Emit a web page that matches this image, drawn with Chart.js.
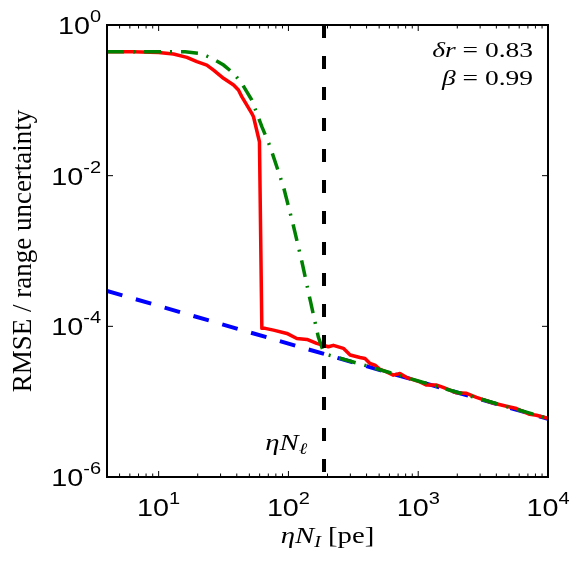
<!DOCTYPE html>
<html>
<head>
<meta charset="utf-8">
<script src="https://cdn.jsdelivr.net/npm/chart.js@4.4.1/dist/chart.umd.min.js"></script>
<style>
  html, body { margin: 0; padding: 0; background: #fff; }
  #wrap { width: 572px; height: 561px; }
</style>
</head>
<body>
<div id="wrap"><canvas id="rmseChart" width="572" height="561"></canvas></div>
<script>
// ---- data ----
const redX = [4, 6.3, 10, 13, 16.5, 19.7, 23.5, 26.5, 31.6, 37.8, 41.2, 43.7, 52.2, 53.8, 59.8, 62.4, 66.2, 76.7, 97.3, 116, 139, 165, 203, 222, 265, 299, 356, 389, 425, 464, 507, 571, 643, 723, 815, 1030, 1161, 1387, 1556, 1972, 2355, 2812, 3776, 4786, 5715, 7228, 8147, 10000];
const redY = [0.443, 0.44, 0.43, 0.412, 0.372, 0.326, 0.294, 0.252, 0.196, 0.160, 0.137, 0.112, 0.0671, 0.0605, 0.0282, 9.4e-5, 9.4e-5, 8.9e-5, 8.05e-5, 6.9e-5, 6.7e-5, 5.93e-5, 5.35e-5, 5.6e-5, 5.1e-5, 4.17e-5, 3.86e-5, 3.75e-5, 3.21e-5, 3.05e-5, 2.68e-5, 2.49e-5, 2.25e-5, 2.37e-5, 2.09e-5, 1.83e-5, 1.66e-5, 1.66e-5, 1.55e-5, 1.31e-5, 1.29e-5, 1.14e-5, 9.6e-6, 8.7e-6, 8.1e-6, 6.8e-6, 6.6e-6, 6.0e-6];

const greenX = [4, 10, 16, 20.9, 25.8, 31.6, 37.8, 43.7, 52.2, 62.4, 72.3, 91.6, 109, 127, 147, 170, 183, 200, 398, 1000, 3162, 10000];
const greenY = [0.443, 0.443, 0.44, 0.42, 0.361, 0.294, 0.228, 0.168, 0.101, 0.0447, 0.0242, 7.1e-3, 2.2e-3, 7.2e-4, 2.24e-4, 7.2e-5, 5.0e-5, 4.2e-5, 3.0e-5, 1.88e-5, 1.06e-5, 6.0e-6];

const blueX = [4, 10, 100, 1000, 10000];
const blueY = [2.95e-4, 1.87e-4, 5.9e-5, 1.87e-5, 5.9e-6];

const markX = [188, 188];
const markY = [1, 1e-6];

const xTicks = [10, 100, 1000, 10000];
const xTickExp = ["1", "2", "3", "4"];
const yTicks = [1, 1e-2, 1e-4, 1e-6];
const yTickExp = ["0", "-2", "-4", "-6"];

const X_MIN = 4, X_MAX = 1e4, Y_MIN = 1e-6, Y_MAX = 1;
const SX = 1.25; // horizontal stretch of the text in the reference
const SANS = '"Liberation Sans", Arial, sans-serif';
const SERIF = '"Liberation Serif", "Times New Roman", serif';

function toPts(xs, ys) {
  return xs.map((x, i) => ({ x, y: ys[i] }));
}

// draw a run of text pieces (for sub/superscripts), stretched horizontally
function drawRich(ctx, parts, x, y, align) {
  ctx.save();
  let w = 0;
  parts.forEach((p) => {
    ctx.font = p.font;
    w += ctx.measureText(p.text).width;
  });
  let start = x;
  if (align === "center") start = x - (w * SX) / 2;
  if (align === "right") start = x - w * SX;
  ctx.translate(start, y);
  ctx.scale(SX, 1);
  ctx.fillStyle = "#000";
  ctx.textBaseline = "alphabetic";
  ctx.textAlign = "left";
  let cx = 0;
  parts.forEach((p) => {
    ctx.font = p.font;
    ctx.fillText(p.text, cx, p.dy || 0);
    cx += ctx.measureText(p.text).width;
  });
  ctx.restore();
}

const axesDecor = {
  id: "axesDecor",
  afterDraw(chart) {
    const { ctx, chartArea: a, scales } = chart;
    const xs = scales.x, ys = scales.y;

    // box
    ctx.save();
    ctx.strokeStyle = "#000";
    ctx.lineWidth = 2;
    ctx.strokeRect(a.left, a.top, a.right - a.left, a.bottom - a.top);

    // inward ticks
    ctx.lineWidth = 1;
    ctx.beginPath();
    xTicks.forEach((v) => {
      const px = xs.getPixelForValue(v);
      ctx.moveTo(px, a.bottom); ctx.lineTo(px, a.bottom - 6);
      ctx.moveTo(px, a.top); ctx.lineTo(px, a.top + 6);
    });
    for (let e = 0; e < 4; e++) {
      for (let m = 2; m <= 9; m++) {
        const v = m * Math.pow(10, e);
        if (v <= X_MIN || v >= X_MAX) continue;
        const px = xs.getPixelForValue(v);
        ctx.moveTo(px, a.bottom); ctx.lineTo(px, a.bottom - 3.5);
        ctx.moveTo(px, a.top); ctx.lineTo(px, a.top + 3.5);
      }
    }
    yTicks.forEach((v) => {
      const py = ys.getPixelForValue(v);
      ctx.moveTo(a.left, py); ctx.lineTo(a.left + 6, py);
      ctx.moveTo(a.right, py); ctx.lineTo(a.right - 6, py);
    });
    ctx.stroke();
    ctx.restore();

    // tick labels
    xTicks.forEach((v, i) => {
      const px = xs.getPixelForValue(v);
      drawRich(ctx, [
        { text: "10", font: `23px ${SANS}` },
        { text: xTickExp[i], font: `16px ${SANS}`, dy: -12 },
      ], px, 516, "center");
    });
    yTicks.forEach((v, i) => {
      const py = ys.getPixelForValue(v);
      drawRich(ctx, [
        { text: "10", font: `23px ${SANS}` },
        { text: yTickExp[i], font: `16px ${SANS}`, dy: -12 },
      ], 101, py + 9, "right");
    });

    // axis titles
    drawRich(ctx, [
      { text: "\u03B7N", font: `italic 23px ${SERIF}` },
      { text: "I", font: `italic 16px ${SERIF}`, dy: 4 },
      { text: " [pe]", font: `23px ${SERIF}` },
    ], (a.left + a.right) / 2, 543, "center");

    ctx.save();
    ctx.translate(31, (a.top + a.bottom) / 2);
    ctx.rotate(-Math.PI / 2);
    ctx.font = `27px ${SERIF}`;
    ctx.fillStyle = "#000";
    ctx.textAlign = "center";
    ctx.fillText("RMSE / range uncertainty", 0, 0);
    ctx.restore();

    // annotations
    drawRich(ctx, [
      { text: "\u03B4r", font: `italic 22px ${SERIF}` },
      { text: " = 0.83", font: `22px ${SERIF}` },
    ], 533, 57, "right");
    drawRich(ctx, [
      { text: "\u03B2", font: `italic 22px ${SERIF}` },
      { text: " = 0.99", font: `22px ${SERIF}` },
    ], 533, 85, "right");
    drawRich(ctx, [
      { text: "\u03B7N", font: `italic 23px ${SERIF}` },
      { text: "\u2113", font: `italic 16px ${SERIF}`, dy: 4 },
    ], 307, 450, "right");
  },
};

const lineBase = { showLine: true, pointRadius: 0, fill: false, tension: 0, borderCapStyle: "butt" };

new Chart(document.getElementById("rmseChart"), {
  type: "scatter",
  data: {
    datasets: [
      { ...lineBase, label: "threshold", data: toPts(markX, markY), borderColor: "#000", borderWidth: 4, borderDash: [13, 18] },
      { ...lineBase, label: "approx", data: toPts(greenX, greenY), borderColor: "#008000", borderWidth: 3.5, borderDash: [17, 9, 2, 9] },
      { ...lineBase, label: "simulated", data: toPts(redX, redY), borderColor: "#ff0000", borderWidth: 3.5, borderJoinStyle: "round" },
      { ...lineBase, label: "bound", data: toPts(blueX, blueY), borderColor: "#0000ff", borderWidth: 4, borderDash: [16, 14] },
    ],
  },
  options: {
    responsive: false,
    animation: false,
    layout: { padding: { top: 25, right: 24, left: 0, bottom: 0 } },
    plugins: { legend: { display: false }, tooltip: { enabled: false } },
    scales: {
      x: {
        type: "logarithmic", min: X_MIN, max: X_MAX,
        grid: { display: false }, border: { display: false }, ticks: { display: false },
        afterFit: (s) => { s.height = 84; },
      },
      y: {
        type: "logarithmic", min: Y_MIN, max: Y_MAX,
        grid: { display: false }, border: { display: false }, ticks: { display: false },
        afterFit: (s) => { s.width = 107; },
      },
    },
  },
  plugins: [axesDecor],
});
</script>
</body>
</html>
